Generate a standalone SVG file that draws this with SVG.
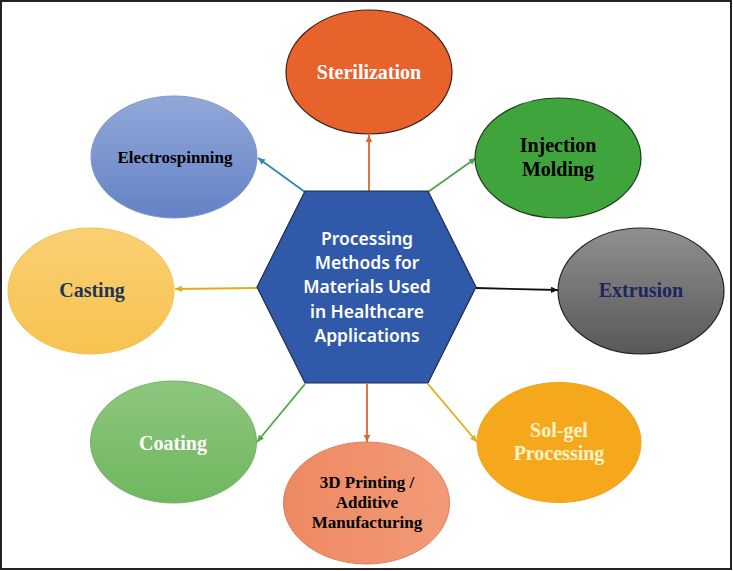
<svg xmlns="http://www.w3.org/2000/svg" width="733" height="571" viewBox="0 0 733 571">
<style>
.lbl{font-family:"Liberation Serif","Times New Roman",serif;font-weight:bold;text-anchor:middle}
.hex{font-family:"Noto Sans","Liberation Sans",sans-serif;font-size:17.5px;font-weight:600;fill:#ffffff;text-anchor:middle}
.con{fill:none;stroke-width:1.8}
</style>
<defs>
<linearGradient id="gBlue" x1="0" y1="0" x2="0" y2="1"><stop offset="0" stop-color="#93A8D9"/><stop offset="1" stop-color="#6382C5"/></linearGradient>
<linearGradient id="gYel" x1="0" y1="0" x2="0" y2="1"><stop offset="0" stop-color="#FAD074"/><stop offset="1" stop-color="#F7C24F"/></linearGradient>
<linearGradient id="gGray" x1="0" y1="0" x2="0" y2="1"><stop offset="0" stop-color="#909090"/><stop offset="1" stop-color="#585858"/></linearGradient>
<linearGradient id="gGreen" x1="0" y1="0" x2="0" y2="1"><stop offset="0" stop-color="#8DC77F"/><stop offset="1" stop-color="#70B65F"/></linearGradient>
<linearGradient id="gSal" x1="0" y1="0" x2="1" y2="0"><stop offset="0" stop-color="#EE8962"/><stop offset="1" stop-color="#F29A78"/></linearGradient>
<marker id="aOr" markerWidth="8" markerHeight="8" refX="7" refY="4" orient="auto" markerUnits="userSpaceOnUse"><path d="M0,0.8 L7,4 L0,7.2 Z" fill="#E0652B"/></marker>
<marker id="aBl" markerWidth="8" markerHeight="8" refX="7" refY="4" orient="auto" markerUnits="userSpaceOnUse"><path d="M0,0.8 L7,4 L0,7.2 Z" fill="#2E86C1"/></marker>
<marker id="aGr" markerWidth="8" markerHeight="8" refX="7" refY="4" orient="auto" markerUnits="userSpaceOnUse"><path d="M0,0.8 L7,4 L0,7.2 Z" fill="#4CA64A"/></marker>
<marker id="aYe" markerWidth="8" markerHeight="8" refX="7" refY="4" orient="auto" markerUnits="userSpaceOnUse"><path d="M0,0.8 L7,4 L0,7.2 Z" fill="#E9AA1A"/></marker>
<marker id="aBk" markerWidth="8" markerHeight="8" refX="7" refY="4" orient="auto" markerUnits="userSpaceOnUse"><path d="M0,0.8 L7,4 L0,7.2 Z" fill="#111111"/></marker>
</defs>
<rect x="0" y="0" width="733" height="571" fill="#ffffff"/>
<rect x="1" y="1" width="730" height="568" fill="none" stroke="#222222" stroke-width="2"/>

<g id="connectors">
<line class="con" x1="369" y1="191" x2="369" y2="135" stroke="#E0652B" marker-end="url(#aOr)"/>
<line class="con" x1="305" y1="192" x2="258" y2="158" stroke="#2E86C1" marker-end="url(#aBl)"/>
<line class="con" x1="428" y1="192" x2="476" y2="158" stroke="#4CA64A" marker-end="url(#aGr)"/>
<line class="con" x1="257" y1="288" x2="175" y2="289" stroke="#E9AA1A" marker-end="url(#aYe)"/>
<line class="con" x1="476" y1="288" x2="558" y2="290" stroke="#111111" marker-end="url(#aBk)"/>
<line class="con" x1="305" y1="384" x2="257" y2="442" stroke="#4CA64A" marker-end="url(#aGr)"/>
<line class="con" x1="367" y1="384" x2="367" y2="442" stroke="#E0652B" marker-end="url(#aOr)"/>
<line class="con" x1="428" y1="384" x2="477" y2="442" stroke="#E9AA1A" marker-end="url(#aYe)"/>
</g>

<g id="center">
<polygon points="305,191 428,191 476,287 428,383 305,383 257,287" fill="#3059A9" stroke="#1d2b4a" stroke-width="1.2"/>
<text class="hex" x="367" y="245">Processing</text>
<text class="hex" x="367" y="269">Methods for</text>
<text class="hex" x="367" y="293">Materials Used</text>
<text class="hex" x="367" y="318">in Healthcare</text>
<text class="hex" x="367" y="342">Applications</text>
</g>

<g id="sterilization">
<ellipse cx="369" cy="72" rx="83" ry="62" fill="#E8622B" stroke="#3a2418" stroke-width="1.2"/>
<text class="lbl" x="369" y="79" font-size="20" fill="#ffffff">Sterilization</text>
</g>

<g id="electrospinning">
<ellipse cx="174" cy="157" rx="83" ry="61" fill="url(#gBlue)" stroke="#7f95cc" stroke-width="1"/>
<text class="lbl" x="175" y="163" font-size="17" fill="#000000">Electrospinning</text>
</g>

<g id="injection">
<ellipse cx="558" cy="158" rx="83" ry="60" fill="#3FA43B" stroke="#1f3a1c" stroke-width="1.2"/>
<text class="lbl" x="558" y="152" font-size="20" fill="#000000">Injection</text>
<text class="lbl" x="558" y="176" font-size="20" fill="#000000">Molding</text>
</g>

<g id="casting">
<ellipse cx="91" cy="291" rx="83" ry="63" fill="url(#gYel)" stroke="#f2c05a" stroke-width="1"/>
<text class="lbl" x="92" y="297" font-size="20" fill="#1E3558">Casting</text>
</g>

<g id="extrusion">
<ellipse cx="641" cy="291" rx="83" ry="63" fill="url(#gGray)" stroke="#222222" stroke-width="1.2"/>
<text class="lbl" x="641" y="297" font-size="20" fill="#1C2561">Extrusion</text>
</g>

<g id="coating">
<ellipse cx="173.5" cy="442" rx="83" ry="61" fill="url(#gGreen)" stroke="#6fb35f" stroke-width="1"/>
<text class="lbl" x="173" y="450" font-size="20" fill="#ffffff">Coating</text>
</g>

<g id="printing">
<ellipse cx="366.5" cy="503" rx="83" ry="61" fill="url(#gSal)" stroke="#e07e5a" stroke-width="1"/>
<text class="lbl" x="367" y="488" font-size="17" fill="#000000">3D Printing /</text>
<text class="lbl" x="367" y="508" font-size="17" fill="#000000">Additive</text>
<text class="lbl" x="367" y="528" font-size="17" fill="#000000">Manufacturing</text>
</g>

<g id="solgel">
<ellipse cx="559" cy="442.5" rx="82" ry="60" fill="#F6A81D" stroke="#f0a21a" stroke-width="1"/>
<text class="lbl" x="559" y="437" font-size="20" fill="#FFF4C8">Sol-gel</text>
<text class="lbl" x="559" y="460" font-size="20" fill="#FFF4C8">Processing</text>
</g>
</svg>
